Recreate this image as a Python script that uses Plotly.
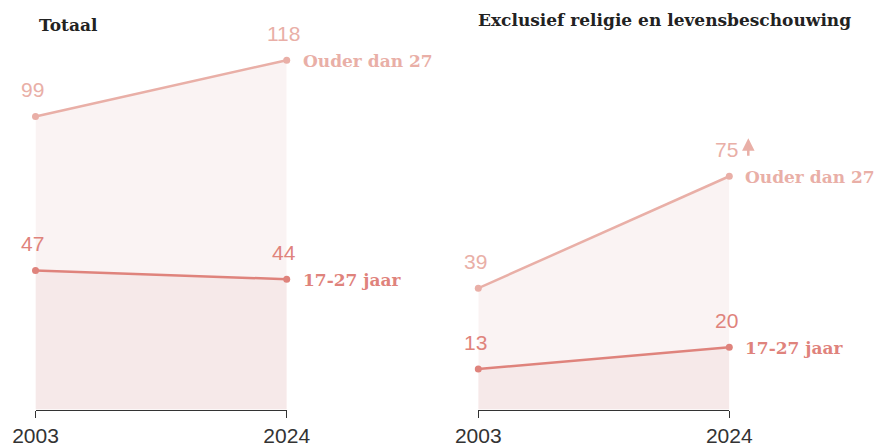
import plotly.graph_objects as go

years = [2003, 2024]
totaal_ouder = [99, 118]
totaal_jong = [47, 44]
excl_ouder = [39, 75]
excl_jong = [13, 20]
titles = ["Totaal", "Exclusief religie en levensbeschouwing"]
series_names = ["Ouder dan 27", "17-27 jaar"]

W, H = 874, 448
C_OLD = "#e9afa7"
C_YNG = "#df837c"
F_OLD = "#faf3f3"
F_YNG = "#f6e9e9"
NUM_FONT = "Liberation Sans, Arial, sans-serif"
SERIF = "DejaVu Serif, serif"


def px(x):
    return x / W


def py(y):
    return 1 - y / H


fig = go.Figure()

panels = [
    ("x", "y", totaal_ouder, totaal_jong),
    ("x2", "y2", excl_ouder, excl_jong),
]
for xa, ya, old, yng in panels:
    fig.add_trace(go.Scatter(x=years, y=old, xaxis=xa, yaxis=ya, mode="lines+markers",
                             line=dict(color=C_OLD, width=2.5), marker=dict(size=7, color=C_OLD),
                             fill="tozeroy", fillcolor=F_OLD, cliponaxis=False, hoverinfo="skip"))
    fig.add_trace(go.Scatter(x=years, y=yng, xaxis=xa, yaxis=ya, mode="lines+markers",
                             line=dict(color=C_YNG, width=2.5), marker=dict(size=7, color=C_YNG),
                             fill="tozeroy", fillcolor=F_YNG, cliponaxis=False, hoverinfo="skip"))

ann = []
for xa, ya, old, yng in panels:
    xr, yr = xa, ya
    for vals, col in ((old, C_OLD), (yng, C_YNG)):
        for xv, v in zip(years, vals):
            ann.append(dict(x=xv, y=v, xref=xr, yref=yr, text=str(v), showarrow=False,
                            xanchor="center", yanchor="middle", xshift=-3, yshift=27,
                            font=dict(family=NUM_FONT, size=21, color=col)))
    ann.append(dict(x=years[-1], y=old[-1], xref=xr, yref=yr, text="<b>%s</b>" % series_names[0],
                    showarrow=False, xanchor="left", yanchor="middle", xshift=14, yshift=-1,
                    font=dict(family=SERIF, size=17, color=C_OLD)))
    ann.append(dict(x=years[-1], y=yng[-1], xref=xr, yref=yr, text="<b>%s</b>" % series_names[1],
                    showarrow=False, xanchor="left", yanchor="middle", xshift=14, yshift=-1,
                    font=dict(family=SERIF, size=17, color=C_YNG)))

# arrow next to 75
ann.append(dict(x=years[-1], y=excl_ouder[-1], xref="x2", yref="y2", text="", showarrow=True,
                ax=0, ay=19, xshift=19, yshift=38, arrowhead=2, arrowsize=1, arrowwidth=2.5,
                arrowcolor=C_OLD))

ann.append(dict(x=px(37), y=py(25), xref="paper", yref="paper", text="<b>%s</b>" % titles[0],
                showarrow=False, xanchor="left", yanchor="middle",
                font=dict(family=SERIF, size=17, color="#222")))
ann.append(dict(x=px(476), y=py(20), xref="paper", yref="paper", text="<b>%s</b>" % titles[1],
                showarrow=False, xanchor="left", yanchor="middle",
                font=dict(family=SERIF, size=17, color="#222")))

BASE, TOP = 409.5, 40
xcommon = dict(range=[2003, 2024], showgrid=False, zeroline=False, showline=True,
               linecolor="#333", linewidth=1, ticks="outside", ticklen=7, tickcolor="#333",
               tickwidth=1, tickvals=years, ticktext=[str(y) for y in years],
               tickfont=dict(family=NUM_FONT, size=21, color="#333"), fixedrange=True,
               automargin=False)
ycommon = dict(showgrid=False, zeroline=False, showline=False, showticklabels=False,
               ticks="", fixedrange=True, automargin=False)

fig.update_layout(
    width=W, height=H, autosize=False,
    margin=dict(l=0, r=0, t=0, b=0, pad=0, autoexpand=False),
    paper_bgcolor="white", plot_bgcolor="white",
    showlegend=False,
    xaxis=dict(domain=[px(35.5), px(286.7)], anchor="y", **xcommon),
    xaxis2=dict(domain=[px(478.3), px(729.3)], anchor="y2", **xcommon),
    yaxis=dict(domain=[py(BASE), py(TOP)], anchor="x", range=[0, (BASE - TOP) / 2.96], **ycommon),
    yaxis2=dict(domain=[py(BASE), py(TOP)], anchor="x2", range=[0, (BASE - TOP) / 3.11], **ycommon),
    annotations=ann,
)

fig.write_html(
    "out.html",
    config={"displayModeBar": False},
    post_script="document.documentElement.style.margin='0';document.body.style.margin='0';"
                "document.body.style.overflow='hidden';",
)
